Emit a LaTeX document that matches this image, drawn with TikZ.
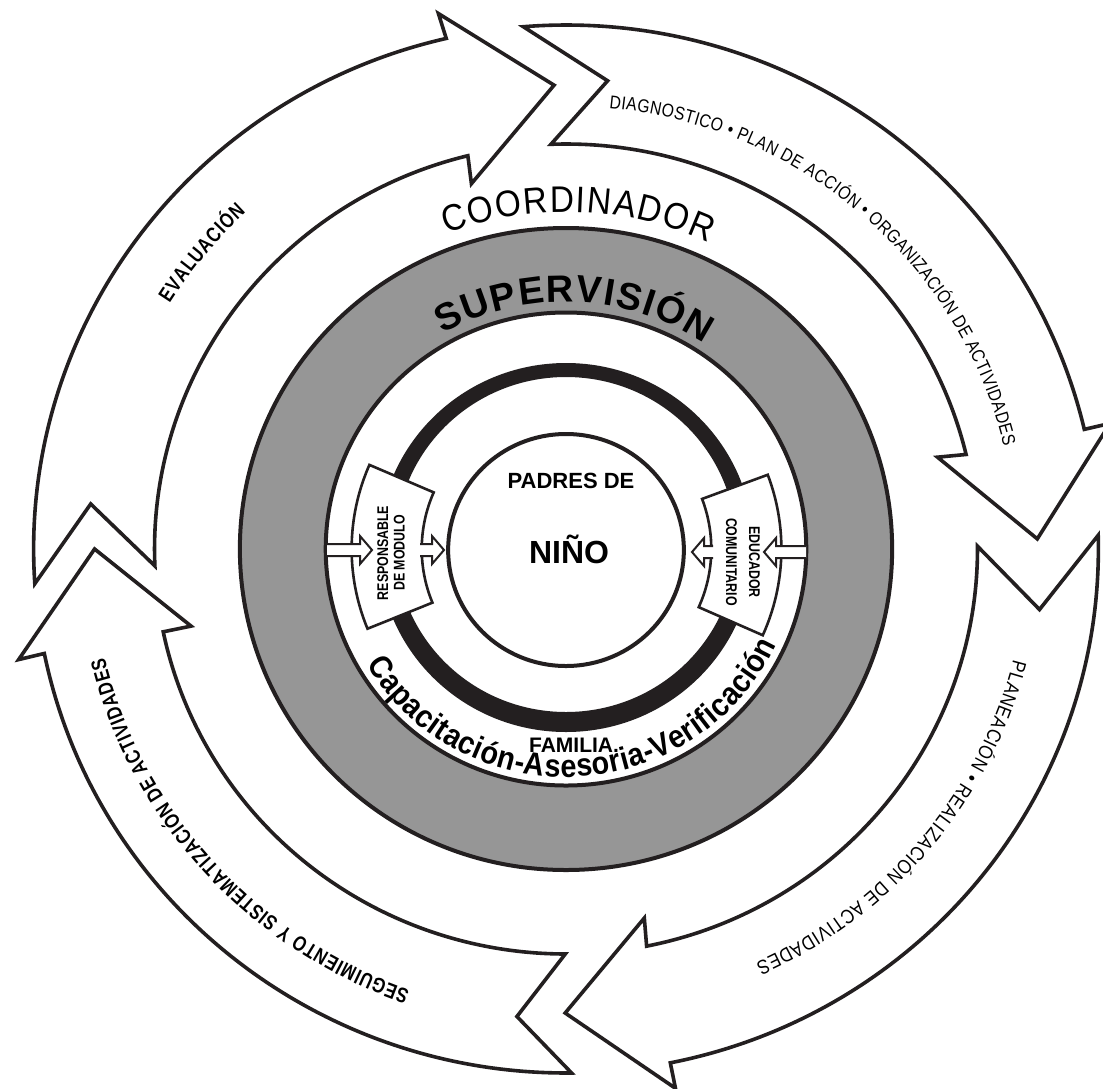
\documentclass[tikz,border=0pt]{standalone}
\usepackage{fontspec}
\setmainfont{Liberation Sans}
\setsansfont{Liberation Sans}
\newfontfamily\narrowfont[FakeStretch=0.9]{Liberation Sans}
\newfontfamily\condfont[FakeStretch=0.85]{Liberation Sans}
\newfontfamily\boxfont[FakeStretch=0.8]{Liberation Sans}
\usetikzlibrary{decorations.text}
\definecolor{ink}{RGB}{35,31,32}
\definecolor{ringgray}{RGB}{150,150,150}
\tikzset{
  band/.style={draw=ink, line width=3.6pt, fill=white, line join=miter, miter limit=10},
  ringline/.style={draw=ink, line width=4pt},
  sectorbox/.style={draw=ink, line width=2.6pt, fill=white, line join=miter},
  smallarrow/.style={draw=ink, line width=2pt, fill=white, line join=miter},
  boxlabel/.style={align=center, inner sep=0, font=\boxfont\bfseries\fontsize{15.5}{16.5}\selectfont},
  pics/blockarrow/.style={code={
    \path[smallarrow] (0,6) -- (#1-12,6) -- (#1-12,14) -- (#1,0) -- (#1-12,-14) -- (#1-12,-6) -- (0,-6);
  }},
}
\newcommand{\cyclearrow}[8]{%
  \path[band] (#1:524) arc[start angle=#1, end angle=#4, radius=524]
    -- (#6:550) -- (#8:464) -- (#7:377) -- (#5:405)
    arc[start angle=#5, end angle=#2, radius=405] -- (#3:470) -- cycle;}
\begin{document}
\begin{tikzpicture}[x=1pt,y=1pt]
\useasboundingbox (0,0) rectangle (1103,-1088);
\fill[white] (0,0) rectangle (1103,-1088);
\begin{scope}[xshift=566pt, yshift=-549pt, x=1.016pt, y=1pt]
  % cycle arrows
  \cyclearrow{183.8}{182.4}{174.5}{103.0}{103.8}{103.2}{104.3}{91.45}
  \cyclearrow{94.6}{92.1}{85.0}{13.2}{13.5}{13.2}{14.1}{1.25}
  \cyclearrow{1.5}{0.4}{-7.4}{-78.7}{-78.7}{-78.7}{-78.2}{-90.1}
  \cyclearrow{270.6}{269.9}{264.1}{191.5}{191.8}{191.6}{191.8}{180}
  % gray ring
  \path[fill=ringgray, even odd rule] (0,0) circle[radius=321] (0,0) circle[radius=236.5];
  \path[ringline] (0,0) circle[radius=321];
  \path[ringline] (0,0) circle[radius=236.5];
  % thick black ring
  \fill[ink, even odd rule] (0,1.5) circle[radius=184.5] (0,4.5) circle[radius=167.5];
  % inner circle
  \path[ringline, fill=white] (0,-1) circle[radius=116];
  % side boxes
  \path[sectorbox] (156.5:211) arc[start angle=156.5, end angle=202.2, radius=211]
     -- (202.2:142) arc[start angle=202.2, end angle=156.5, radius=142] -- cycle;
  \path[sectorbox] (20.5:212) arc[start angle=20.5, end angle=-24, radius=212]
     -- (-24:143) arc[start angle=-24, end angle=20.5, radius=143] -- cycle;
  % texts along arcs
  \path[decorate, decoration={text along path, text align={fit to path},
     text={|\narrowfont\fontsize{37}{37}\selectfont|COORDINADOR}}]
     (110.5:337) arc[start angle=110.5, end angle=65.3, radius=337];
  \path[decorate, decoration={text along path, text align={fit to path},
     text={|\bfseries\fontsize{38}{38}\selectfont|SUPERVISIÓN}}]
     (119.5:247) arc[start angle=119.5, end angle=56.5, radius=247];
  \path[decorate, decoration={text along path, text align={fit to path},
     text={|\narrowfont\bfseries\fontsize{32}{32}\selectfont|Capacitación-Asesoria-Verificación}}]
     (210.5:228) arc[start angle=210.5, end angle=335.2, radius=228];
  \path[decorate, decoration={text along path, text align={fit to path},
     text={|\condfont\fontsize{18.5}{18.5}\selectfont|DIAGNOSTICO • PLAN DE ACCIÓN • ORGANIZACIÓN DE ACTIVIDADES}}]
     (84.5:443) arc[start angle=84.5, end angle=13.5, radius=443];
  \path[decorate, decoration={text along path, text align={fit to path},
     text={|\condfont\fontsize{20}{20}\selectfont|PLANEACIÓN • REALIZACIÓN DE ACTIVIDADES}}]
     (-14.1:454) arc[start angle=-14.1, end angle=-65.7, radius=454];
  \path[decorate, decoration={text along path, text align={fit to path},
     text={|\boxfont\bfseries\fontsize{21}{21}\selectfont|SEGUIMIENTO Y SISTEMATIZACIÓN DE ACTIVIDADES}}]
     (250.8:467) arc[start angle=250.8, end angle=193.5, radius=467];
  \path[decorate, decoration={text along path, text align={fit to path},
     text={|\boxfont\bfseries\fontsize{21}{21}\selectfont|EVALUACIÓN}}]
     (147.8:461) arc[start angle=147.8, end angle=133.1, radius=461];
\end{scope}
% small block arrows
\pic at (327,-550) {blockarrow=45};
\pic at (420,-550) {blockarrow=24};
\pic[rotate=180] at (806,-552) {blockarrow=42};
\pic[rotate=180] at (713,-552) {blockarrow=21};
% straight texts
\node[anchor=base, inner sep=0, font=\bfseries\fontsize{22}{22}\selectfont] (padres) at (571,-488) {PADRES DE};
\node[anchor=base, inner sep=0, font=\bfseries\fontsize{32}{32}\selectfont] (nino) at (569,-563) {NIÑO};
\node[anchor=base, inner sep=0, font=\bfseries\fontsize{21}{21}\selectfont] (familia) at (574,-752) {FAMILIA.};
\node[boxlabel, rotate=90] (resp) at (391,-553) {RESPONSABLE\\DE MODULO};
\node[boxlabel, rotate=-90, font=\boxfont\bfseries\fontsize{15.5}{23}\selectfont] (educ) at (743,-562) {EDUCADOR\\COMUNITARIO};
\end{tikzpicture}
\end{document}
